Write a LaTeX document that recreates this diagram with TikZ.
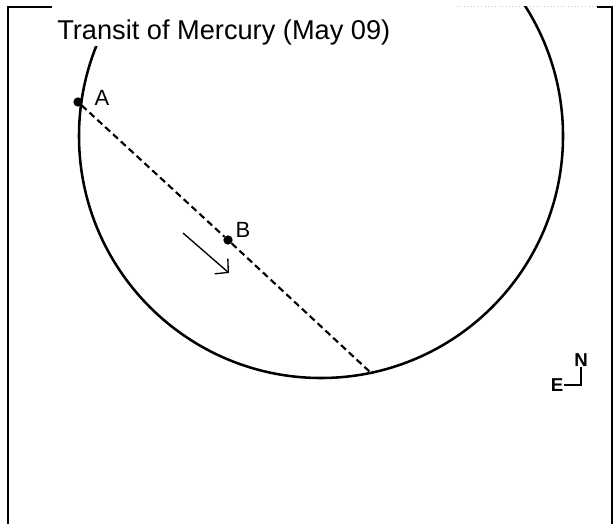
\documentclass[tikz,border=0pt]{standalone}
\usepackage{fontspec}
\setmainfont{Liberation Sans}
\usetikzlibrary{arrows.meta}

\begin{document}
\begin{tikzpicture}[x=0.75pt, y=-0.75pt,
  frame/.style={line width=2.2pt},
  dot/.style={circle, fill=black, inner sep=0pt, minimum size=7pt},
  pointlabel/.style={font=\fontsize{16.5}{18}\selectfont, inner sep=0pt},
  compass/.style={font=\bfseries\fontsize{14}{16}\selectfont, inner sep=0pt}]
  \useasboundingbox (0,0) rectangle (616,524);
  % frame, open at the bottom
  \draw[frame] (52,7) -| (8,524);
  \draw[frame] (597,7) -| (612,524);
  \draw[gray!45, dotted, line width=0.6pt] (457,6) -- (597,6);
  % solar disc
  \coordinate (O) at (321,136);
  \begin{scope}
    \clip (8,7) rectangle (612,524);
    \draw[line width=1.9pt] (O) circle[radius=242];
  \end{scope}
  \node[fill=white, inner sep=0pt, anchor=base west, text height=26pt, text depth=4.6pt,
        font=\fontsize{20.4}{24}\selectfont] (title) at (57,40) {Transit of Mercury (May 09)};
  % path of the planet
  \node[dot] (A) at (78,102) {};
  \node[dot] (B) at (228,240) {};
  \coordinate (C) at (370,372);
  \draw[line width=1.6pt, dash pattern=on 5pt off 3pt] (A) -- (B) -- (C);
  \node[pointlabel] (labA) at (102,98) {A};
  \node[pointlabel] (labB) at (243,230) {B};
  % direction of motion
  \coordinate (m1) at (183,233);
  \coordinate (m2) at (229,273);
  \draw[line width=1pt, -{Straight Barb[length=7pt, width=15pt]}] (m1) -- (m2);
  % orientation
  \node[compass] (N) at (581,360) {N};
  \node[compass] (E) at (557,385) {E};
  \draw[line width=1.1pt] (N.south) |- (E.east);
\end{tikzpicture}
\end{document}
